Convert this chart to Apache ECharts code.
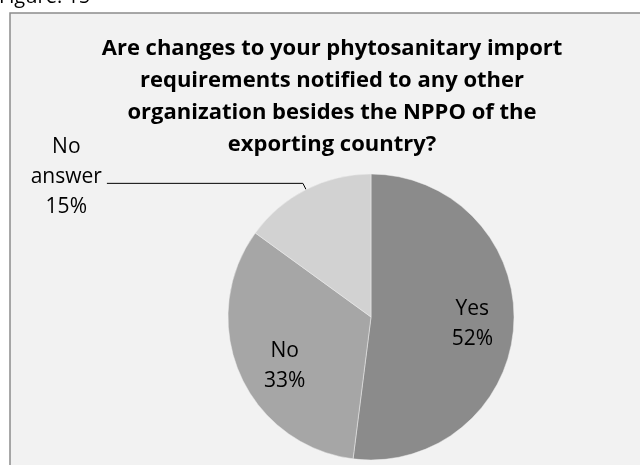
<!DOCTYPE html>
<html>
<head>
<meta charset="utf-8">
<style>
  html, body { margin: 0; padding: 0; background: #ffffff; }
  #chart { width: 640px; height: 465px; }
</style>
<script src="https://cdn.jsdelivr.net/npm/echarts@6/dist/echarts.min.js"></script>
</head>
<body>
<div id="chart"></div>
<script>
// Survey answers and their shares (percent)
const categories = ['Yes', 'No', 'No answer'];
const shares = [52, 33, 15];
const sliceColors = ['#8b8b8b', '#a6a6a6', '#d2d2d2'];

const figureCaption = 'Figure: 15';
const chartTitle = 'Are changes to your phytosanitary import\nrequirements notified to any other\norganization besides the NPPO of the\nexporting country?';

const FONT = '"Open Sans", "Liberation Sans", sans-serif';
const LABEL_SIZE = 21;

// Nudges for the two labels that sit inside their slices
const insideOffsets = { 'Yes': [27, 2], 'No': [-18, 19] };

const chart = echarts.init(document.getElementById('chart'), null, { renderer: 'canvas' });

const pieData = categories.map((name, i) => {
  const item = { name: name, value: shares[i], itemStyle: { color: sliceColors[i] } };
  if (name === 'No answer') {
    item.label = {
      position: 'outside',
      formatter: '{c|No}\n{c|answer}\n{c|{d}%}',
      padding: [0, 0, 12, 0],
      distanceToLabelLine: 5
    };
    item.labelLine = {
      show: true,
      length: 7,
      length2: 196,
      lineStyle: { color: '#000000', width: 1 }
    };
  } else {
    item.label = { position: 'inside', offset: insideOffsets[name] };
    item.labelLine = { show: false };
  }
  return item;
});

chart.setOption({
  animation: false,
  backgroundColor: '#ffffff',
  graphic: [
    {
      type: 'rect',
      z: -10,
      shape: { x: 10, y: 13, width: 700, height: 520 },
      style: { fill: '#f2f2f2', stroke: '#8c8c8c', lineWidth: 1.5 }
    },
    {
      type: 'text',
      left: -1,
      top: -13,
      style: { text: figureCaption, font: '20px ' + FONT, fill: '#000000' }
    }
  ],
  title: {
    text: chartTitle,
    left: 327,
    top: 28,
    textAlign: 'center',
    textStyle: {
      fontFamily: FONT,
      fontWeight: 'bold',
      fontSize: 22,
      lineHeight: 32,
      color: '#000000'
    }
  },
  series: [{
    type: 'pie',
    center: [371, 317],
    radius: 143,
    startAngle: 90,
    clockwise: true,
    avoidLabelOverlap: false,
    itemStyle: { borderColor: '#eeeeee', borderWidth: 0.5 },
    label: {
      show: true,
      formatter: '{c|{b}}\n{c|{d}%}',
      color: '#000000',
      fontFamily: FONT,
      fontSize: LABEL_SIZE,
      lineHeight: 31,
      rich: {
        c: { align: 'center', fontFamily: FONT, fontSize: LABEL_SIZE, lineHeight: 30, color: '#000000' }
      }
    },
    emphasis: { disabled: true },
    data: pieData
  }]
});
</script>
</body>
</html>
